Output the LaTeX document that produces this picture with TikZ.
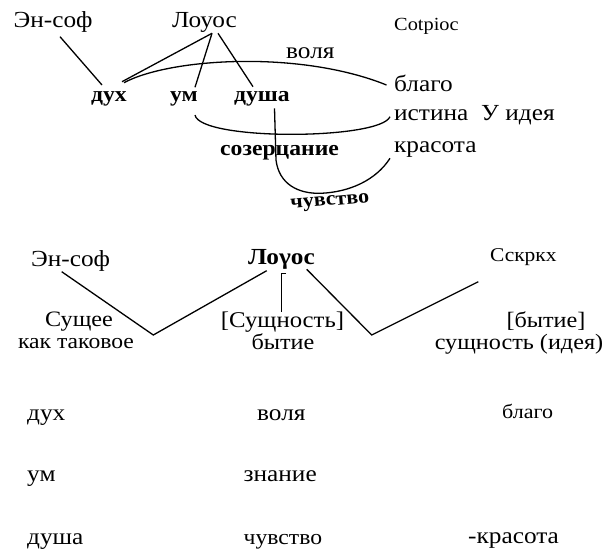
\documentclass[tikz,border=0pt]{standalone}
\usepackage{fontspec}
\setmainfont[FakeStretch=1.1]{Liberation Serif}
\begin{document}
\begin{tikzpicture}[x=1pt,y=-1pt,
  lbl/.style={inner sep=0pt,anchor=base west,font=\fontsize{23}{26}\selectfont},
  clbl/.style={inner sep=0pt,anchor=base,font=\fontsize{22}{26}\selectfont},
  blbl/.style={inner sep=0pt,anchor=base west,font=\fontsize{21.5}{24}\selectfont\bfseries},
  small/.style={inner sep=0pt,anchor=base west,font=\fontsize{18.5}{22}\selectfont},
  ln/.style={line width=1.3pt,line join=miter}]
\useasboundingbox (0,0) rectangle (606,549);
% ---------- top diagram ----------
\node[lbl] (ensof1) at (13.5,27.5) {Эн-соф};
\node[lbl] (logos1) at (172,27.5) {Лоуос};
\node[small] (kosmos1) at (394,30) {Cotpioc};
\node[lbl] (volya1) at (286,58) {воля};
\node[lbl] (blago1) at (394,91) {благо};
\node[blbl] (duh1) at (91,101.5) {дух};
\node[blbl] (um1) at (170,101.5) {ум};
\node[blbl] (dusha1) at (234,101.5) {душа};
\node[lbl] (istina1) at (394,120) {истина};
\node[lbl] (ideya1) at (481,120) {У идея};
\node[blbl] (sozer1) at (220,155.5) {созерцание};
\node[lbl] (krasota1) at (394,152) {красота};
\node[blbl,font=\fontsize{20}{24}\selectfont\bfseries,anchor=center,rotate=5] (chuv1) at (330,203) {чувство};

\coordinate (es1) at (60,36.7);
\coordinate (duhtop) at (102,85);
\coordinate (apex) at (212,33.3);
\coordinate (apexr) at (218,33.3);
\coordinate (duhr) at (122,81.7);
\coordinate (duharc) at (124,82.7);
\coordinate (umtop) at (195,87.3);
\coordinate (dushatop) at (253,86.7);
\coordinate (blagoL) at (386.5,85);
\coordinate (umbot) at (195,115);
\coordinate (istinaL) at (390,116.7);
\coordinate (dushabot) at (274.5,108.3);
\coordinate (krasotaL) at (390,158.3);

\draw[ln] (es1) -- (duhtop);
\draw[ln] (apex) -- (duhr);
\draw[ln] (apex) -- (umtop);
\draw[ln] (apexr) -- (dushatop);
\draw[ln] (duharc) .. controls (170,58) and (300,50) .. (blagoL);
\draw[ln] (umbot) .. controls (200,141) and (380,140) .. (istinaL);
\draw[ln] (dushabot) -- (276,160) .. controls (279,184) and (298,194) .. (321,193.3)
   .. controls (350,192) and (376,180) .. (krasotaL);

% ---------- bottom diagram ----------
\node[lbl] (ensof2) at (31,266) {Эн-соф};
\node[lbl,font=\fontsize{23}{26}\selectfont\bfseries] (logos2) at (248,264) {Лоγос};
\node[lbl,font=\fontsize{19.5}{24}\selectfont] (kosmos2) at (490,261) {Сскркх};
\node[clbl] (sushee) at (79,326) {Сущее};
\node[clbl,font=\fontsize{21.5}{26}\selectfont] (kaktak) at (76,348) {как таковое};
\node[clbl,font=\fontsize{22.5}{26}\selectfont] (sushn) at (282.5,327) {[Сущность]};
\node[clbl] (bytie) at (283,349) {бытие};
\node[clbl] (bytie2) at (546,327) {[бытие]};
\node[clbl] (sushid) at (519,349) {сущность (идея)};

\node[lbl] (duh2) at (27,420) {дух};
\node[lbl] (volya2) at (257,420) {воля};
\node[lbl,font=\fontsize{20}{24}\selectfont] (blago2) at (502,418) {благо};
\node[lbl] (um2) at (27,481) {ум};
\node[lbl] (znanie2) at (243.5,481) {знание};
\node[lbl] (dusha2) at (27,544) {душа};
\node[lbl,font=\fontsize{21.5}{24}\selectfont] (chuv2) at (243.5,544) {чувство};
\node[lbl] (krasota2) at (468,543) {-красота};

\coordinate (es2) at (61.7,271.7);
\coordinate (v1) at (153.3,335);
\coordinate (lg1) at (266.7,270.7);
\coordinate (lgv) at (281.7,273.3);
\coordinate (lgvb) at (281.7,311.7);
\coordinate (lg2) at (306.7,269.3);
\coordinate (v2) at (371.7,335);
\coordinate (ks2) at (478.3,281.7);

\draw[ln] (es2) -- (v1) -- (lg1);
\draw[ln] (286.2,273.3) -- (lgv) -- (lgvb);
\draw[ln] (lg2) -- (v2) -- (ks2);
\end{tikzpicture}
\end{document}
